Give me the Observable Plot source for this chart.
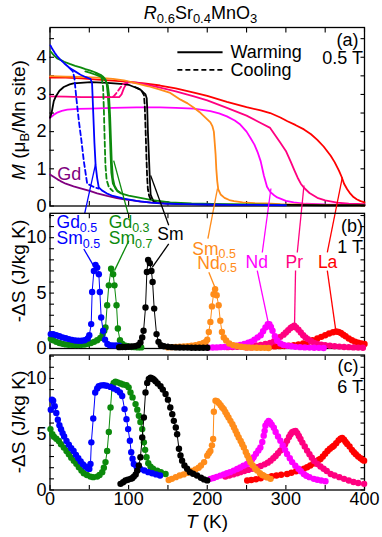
<!DOCTYPE html>
<html><head><meta charset="utf-8">
<script src="https://cdn.jsdelivr.net/npm/d3@7"></script>
<script src="https://cdn.jsdelivr.net/npm/@observablehq/plot@0.6"></script>
<style>
body{margin:0;background:#fff;}
#wrap{position:relative;width:382px;height:537px;font-family:"Liberation Sans",Arial,Helvetica,sans-serif;color:#000;overflow:hidden;}
#wrap svg{position:absolute;left:0;top:0;}
.t{position:absolute;white-space:nowrap;font-size:18px;line-height:1;transform:translate(-50%,-50%);}
.yl{position:absolute;white-space:nowrap;font-size:19px;line-height:1;transform:translate(-50%,-50%) rotate(-90deg);}
sub{font-size:13px;vertical-align:-4px;line-height:0;}
</style></head>
<body><div id="wrap"></div>
<script>
// ---------- colours ----------
const C = {La:"#ff0000", Pr:"#ff0080", Nd:"#ff00ff", SmNd:"#ff8c1a", Sm:"#000000", GdSm37:"#0c8a0c", GdSm55:"#0000ff", Gd:"#800080"};
const FONT = '"Liberation Sans", Arial, Helvetica, sans-serif';

// ---------- ticks ----------
const xTicks = [0,50,100,150,200,250,300,350,400];
const xLabels = [0,100,200,300,400];
const yTicksA = [0,0.5,1,1.5,2,2.5,3,3.5,4,4.5];
const yLabelsA = [0,1,2,3,4];
const yTicksS = [0,1,2,3,4,5,6,7,8,9,10,11,12];
const yLabelsS = [0,5,10];

// ---------- panel (a): M (muB/Mn site) at 0.5 T ----------
const T_La_a = [0,20,40,60,80,100,120,140,160,183,200,225,250,268,280,293,302,312,323,332,340,348,357,362,367.5,371,374,378,382,386,390,395,400];
const M_La_a = [3.45,3.45,3.43,3.4,3.37,3.34,3.3,3.24,3.16,3.05,2.96,2.8,2.66,2.57,2.5,2.38,2.28,2.18,2.06,1.93,1.78,1.6,1.35,1.18,0.95,0.78,0.6,0.45,0.33,0.24,0.18,0.13,0.1];
const T_Pr_a = [0,20,40,60,80,88,91,94,97,100,110,120,140,160,183,200,225,250,268,280,293,300,306,311,315,319,323,330,340,350,365,380,400];
const M_Pr_a = [2.95,2.94,2.93,2.93,2.93,2.93,3.0,3.17,3.28,3.33,3.32,3.28,3.18,3.08,2.95,2.84,2.64,2.43,2.23,2.1,1.7,1.48,1.2,0.95,0.76,0.6,0.49,0.35,0.22,0.15,0.09,0.06,0.05];
const T_Pr_c = [70,78,81,85,89,93,97,102];
const M_Pr_c = [2.93,2.93,2.95,3.05,3.17,3.28,3.32,3.33];
const T_Nd_a = [0,3,6,10,15,22,35,52,80,110,140,160,183,204,215,225,235,242,250,255,260,264,268,272,276,280,285,289,293,300,310,325,350,400];
const M_Nd_a = [2.37,2.42,2.47,2.52,2.56,2.59,2.61,2.62,2.64,2.65,2.65,2.64,2.62,2.55,2.49,2.41,2.3,2.19,2.0,1.83,1.65,1.45,1.2,0.82,0.52,0.38,0.29,0.23,0.2,0.14,0.1,0.06,0.04,0.03];
const T_SmNd_a = [0,20,40,60,80,94,110,125,140,153,166,175,183,190,196,200,204,206.5,208.4,209.5,210.6,211.5,212.7,214,217,222,228,234,245,260,275,293,320,350,400];
const M_SmNd_a = [3.49,3.48,3.47,3.45,3.42,3.38,3.3,3.22,3.13,3.04,2.86,2.76,2.64,2.53,2.41,2.33,2.25,2.15,2.0,1.7,1.39,1.0,0.67,0.45,0.31,0.22,0.16,0.13,0.1,0.08,0.07,0.05,0.04,0.03,0.02];
const T_Sm_a = [0,2,4.8,7,9,12,17.5,25,30,52,73,94,100,107,111,115,118,121.5,123,123.6,124.5,125.7,127,128,130,132,136,145,160,180,200,250,300,350,400];
const M_Sm_a = [2.37,2.5,2.82,2.93,3.0,3.1,3.2,3.27,3.3,3.33,3.31,3.28,3.26,3.2,3.17,3.13,3.07,3.0,2.9,2.66,2.0,1.39,0.7,0.31,0.2,0.13,0.1,0.08,0.06,0.05,0.04,0.03,0.03,0.02,0.02];
const T_Sm_c = [108,113,117,119.5,120.5,121.5,122.5,123.5,124.5,126,128,132];
const M_Sm_c = [3.2,3.15,3.08,2.98,2.7,2.1,1.4,0.8,0.45,0.28,0.18,0.13];
const T_Gd_a = [0,5,10,13.4,20,30,40,51.5,60,72.7,85,94,105,115,130,150];
const M_Gd_a = [0.85,0.78,0.71,0.67,0.6,0.53,0.47,0.4,0.34,0.27,0.21,0.18,0.15,0.12,0.09,0.06];
const T_GdSm37_a = [0.6,3,6,9,13.4,18,25,32,38.8,45,51.5,58,64.3,68,70.6,72,73.5,75,76,77,78,80,83,85.5,90,100,115,130,153,180,220,260,300];
const M_GdSm37_a = [4.16,4.1,4.03,3.97,3.93,3.88,3.82,3.77,3.73,3.68,3.64,3.59,3.53,3.47,3.4,3.3,3.0,2.5,2.0,1.4,0.9,0.6,0.48,0.4,0.34,0.28,0.22,0.16,0.1,0.07,0.05,0.04,0.03];
const T_GdSm37_b = [45,51.5,58,64.3,68,71,73.5,75,76.5,77.5,78.5,80,82,85.5,90];
const M_GdSm37_b = [3.62,3.58,3.53,3.48,3.43,3.36,3.25,3.0,2.4,1.8,1.2,0.75,0.55,0.42,0.35];
const T_GdSm37_c = [58,64,66,67.5,68.5,69.5,70.5,72,75,80];
const M_GdSm37_c = [3.58,3.5,3.42,3.2,2.6,1.8,1.1,0.7,0.5,0.4];
const T_GdSm55_a = [0.6,3,6,9,13.4,18,25,32,38.8,45,51.5,53.5,55,56.5,58,60,62,66,72,80,94,110,128,140,153,170,200,230,260,300];
const M_GdSm55_a = [4.32,4.22,4.12,4.03,3.93,3.84,3.71,3.62,3.53,3.47,3.42,3.3,2.5,1.7,1.1,0.75,0.5,0.42,0.34,0.27,0.2,0.14,0.09,0.07,0.06,0.05,0.04,0.03,0.03,0.02];
const T_GdSm55_c = [25,29,31,33.5,36.7,40,43,45.5,47.3,52,58,62];
const M_GdSm55_c = [3.71,3.62,3.45,2.9,2.29,1.75,1.21,0.85,0.6,0.55,0.49,0.47];

// ---------- panel (b): -dS at 1 T ----------
const T_La_1 = [250,256,262,268,274,280,286,292,298,304,310,316,322,328,334,340,345,350,355,360,364,367,370,373,376,380,384,388,392,396,400];
const S_La_1 = [0.1,0.1,0.12,0.13,0.15,0.17,0.19,0.21,0.23,0.26,0.3,0.36,0.45,0.58,0.75,0.9,1.05,1.2,1.35,1.47,1.53,1.5,1.4,1.25,1.1,0.9,0.75,0.62,0.52,0.45,0.4];
const T_Pr_1 = [226,232,238,244,250,256,262,268,274,280,285,289,293,297,300,303,306,308,310.6,313,316,319,322,325,328,332,336,340,345,350,356,362,368,374,380,386,392,398];
const S_Pr_1 = [0.12,0.14,0.16,0.18,0.2,0.24,0.28,0.33,0.4,0.5,0.65,0.85,1.05,1.25,1.45,1.65,1.85,1.95,2.05,1.9,1.7,1.45,1.2,1.0,0.85,0.65,0.5,0.42,0.35,0.3,0.25,0.2,0.17,0.14,0.12,0.1,0.08,0.07];
const T_Nd_1 = [202,207,212,217,222,227,232,237,242,247,252,256,260,264,268,271,274,277,279,281,283,286,289,293,297,302,307,312,318,324,330,336,342,348];
const S_Nd_1 = [0.08,0.09,0.1,0.12,0.14,0.17,0.2,0.25,0.32,0.4,0.52,0.62,0.8,1.0,1.2,1.55,1.9,2.2,2.2,1.95,1.6,1.1,0.72,0.45,0.32,0.25,0.2,0.15,0.12,0.1,0.08,0.07,0.06,0.05];
const T_SmNd_1 = [150,155,160,165,170,175,180,185,190,195,198,200,202,204,206,208,210,212,214.5,216.6,218.7,221,224,228,233,238,243,248,253,258,263,268,273,278];
const S_SmNd_1 = [0.1,0.12,0.14,0.16,0.18,0.21,0.25,0.3,0.38,0.5,0.6,0.8,1.5,2.4,3.8,4.9,5.35,4.8,3.9,2.5,1.5,1.0,0.72,0.45,0.3,0.22,0.16,0.12,0.1,0.08,0.07,0.06,0.06,0.05];
const T_GdSm37_1 = [1,4,8,12,16,20,24,28,32,36,40,44,48,52,56,60,64,67,69,70.6,72.7,74.8,77.7,80.3,82,84.6,86.3,89,92,96,100,104,108,112,116];
const S_GdSm37_1 = [0.87,0.75,0.6,0.5,0.42,0.37,0.34,0.33,0.32,0.32,0.33,0.36,0.42,0.5,0.6,0.75,0.95,1.3,1.6,1.9,3.9,5.7,7.2,6.7,5.7,3.9,1.8,0.75,0.4,0.25,0.18,0.14,0.12,0.1,0.1];
const T_GdSm55_1 = [1,4,8,12,16,20,24,28,32,36,40,44,48,50,52.4,53.6,55.8,57.9,60,62.1,63.4,65.1,67.6,70,73,76,80,84,88];
const S_GdSm55_1 = [1.3,1.28,1.2,1.1,1.0,0.92,0.85,0.78,0.72,0.7,0.7,0.75,0.9,1.2,2.2,5.1,7.0,7.55,7.3,6.7,5.1,2.8,1.6,0.8,0.4,0.3,0.28,0.27,0.26];
const T_Sm_1 = [88,92,96,100,104,108,112,115,117.3,119,121.5,123.2,124.8,127,129,130.5,132.5,135.5,138,141,145,150,155,160,165,170,175,180,185,190,195,200];
const S_Sm_1 = [0.12,0.13,0.14,0.16,0.18,0.21,0.3,0.55,1.0,1.6,3.7,6.9,8.0,7.7,7.0,6.0,3.6,1.3,0.6,0.3,0.2,0.15,0.12,0.1,0.09,0.08,0.08,0.07,0.07,0.07,0.07,0.07];

// ---------- panel (c): -dS at 6 T ----------
const T_La_6 = [250.8,256,262,268,276,282,288,294,301.5,307,313,318,323,327,331,335,339,342,344,347,350,353,356,359,361,364,367,369.5,371.6,374,376,378,381,384,386.5,389,392,395,397.5,399.5];
const S_La_6 = [0.85,0.9,0.97,1.05,1.15,1.23,1.3,1.37,1.44,1.55,1.68,1.8,1.92,2.04,2.2,2.38,2.6,2.72,2.78,3.0,3.25,3.5,3.7,3.85,3.97,4.2,4.45,4.6,4.66,4.5,4.3,4.13,3.9,3.6,3.38,3.2,3.0,2.85,2.72,2.63];
const T_Pr_6 = [223,228,233,238,242,247,252,257,263.6,268,273,277,280.5,284,287,290,293,296,299,301.5,304,306,308,310,312.3,314.5,316.5,318.6,321,324,327,330,333,336,340,344,348,352,357,362,368,374,380,386,392,399.5];
const S_Pr_6 = [1.2,1.3,1.4,1.5,1.6,1.7,1.8,1.9,2.04,2.15,2.3,2.45,2.63,2.85,3.05,3.3,3.53,3.8,4.1,4.42,4.75,5.0,5.17,5.25,5.3,5.1,4.85,4.57,4.25,3.9,3.53,3.2,2.9,2.6,2.33,2.1,1.9,1.7,1.44,1.3,1.15,1.0,0.85,0.72,0.63,0.55];
const T_Nd_6 = [204,208,212,216.6,221,225,229,233.6,238,242,246,250.6,254,257,259,262,265,267.6,270,271.8,273,274,276,278,280,282,284.7,287,290,293,296,299,301.5,305,308,312,316,319,322.8,326,330,335.6,340,345,350.4];
const S_Nd_6 = [1.0,1.08,1.18,1.29,1.4,1.5,1.6,1.74,1.88,2.02,2.17,2.33,2.55,2.75,2.93,3.25,3.55,3.82,4.3,4.87,5.3,5.76,6.0,6.2,6.05,5.85,5.58,5.2,4.8,4.42,4.0,3.6,3.23,2.85,2.5,2.18,1.9,1.68,1.44,1.28,1.15,1.0,0.92,0.85,0.78];
const T_SmNd_6 = [151,155,160,165,170,175,180,185,189,192,196,200,202,204,206,207.5,208.4,210.5,212.5,214.7,217,219,221,223,225,227,229.5,232,234,236,238,240,242.5,244.5,246.5,249,251,253,255,258,261,263.6,267,270,272,276,280.5];
const S_SmNd_6 = [0.9,1.0,1.15,1.3,1.4,1.55,1.7,1.85,2.0,2.2,2.5,3.08,3.3,3.5,4.0,4.57,7.02,8.0,7.95,7.8,7.6,7.4,7.25,7.0,6.75,6.5,6.2,5.9,5.6,5.3,5.0,4.7,4.4,4.1,3.82,3.4,3.1,2.8,2.48,2.2,1.9,1.74,1.5,1.35,1.29,1.15,1.0];
const T_GdSm37_6 = [0.6,3,5,8,11.2,14,17.6,21,24,27,30.3,33.5,36.7,40,43,47,51.5,55,60,63,66.4,68.5,70.6,72.7,74.8,77,79,81,83.3,86,89.7,93,97.3,100,102.4,105,108.8,111,113,115,117.3,119.4,121,122.8,125,127.9,131,136.4,141,147];
const S_GdSm37_6 = [5.46,5.0,4.77,4.6,4.4,4.1,3.8,3.5,3.2,2.9,2.63,2.35,2.04,1.75,1.5,1.35,1.2,1.15,1.2,1.35,1.6,2.0,2.5,3.5,5.2,7.4,9.33,9.6,9.7,9.65,9.54,9.45,9.39,9.2,8.74,8.3,7.7,7.2,6.65,6.1,5.46,4.27,3.6,2.93,2.4,2.09,1.9,1.73,1.6,1.44];
const T_GdSm55_6 = [1,2.5,4,6,8,10,12,14,16,18,21,24,27,30,33,36,39,42,45,48,50,51.5,52.6,55,57.5,60,62,65,68.5,72,77,81,85.5,89,91.8,94.8,97.3,99.4,101.6,103.3,105,106.6,110,115,120,125,130,135,140];
const S_GdSm55_6 = [7.2,8.1,8.0,7.5,6.9,6.3,5.8,5.45,5.1,4.8,4.4,4.05,3.75,3.5,3.15,2.85,2.55,2.3,2.1,1.95,1.89,2.33,4.27,6.41,8.74,9.1,9.3,9.38,9.39,9.35,9.24,9.1,8.95,8.75,8.43,7.25,6.35,5.46,4.42,3.38,2.8,2.33,2.1,1.88,1.75,1.6,1.5,1.4,1.3];
const T_Sm_6 = [89.7,93,96,99,102.4,104.5,106.6,109,110.9,113,115,117.3,119.4,121.5,123.6,125.7,127.9,130,132,134.2,137,140.6,143.5,147,150,153,155.5,157.5,160,161.7,164,166,168,171,174.4,178,182,187,192,196,200];
const S_Sm_6 = [0.55,0.7,0.85,0.92,1.0,1.05,1.2,1.4,1.73,2.2,2.93,4.7,6.5,8.74,9.6,9.95,10.07,10.0,9.9,9.75,9.55,9.3,9.0,8.6,8.1,7.4,6.8,6.2,5.6,5.0,3.7,3.1,2.63,2.2,1.9,1.6,1.45,1.3,1.1,0.95,0.86];

// ---------- annotations ----------
const legendKeys = ["Warming","Cooling"];
const legendM = [4.135, 3.66];
const legendT1 = 162, legendT2 = 219.5, legendTextT = 229.6;
// connector lines: upper part in panel (a) units (T, M), lower part in panel (b) units (T, -dS)
const connKey = ["GdSm55","GdSm37","Sm","SmNd","Nd","Pr","La"];
const connA_T1 = [58, 81, 128, 213, 281, 323, 371.8];
const connA_M1 = [1.13, 1.22, 0.82, 0.47, 0.47, 0.55, 0.77];
const connA_T2 = [44, 99.2, 151, 200.8, 270, 314.5, 352.7];
const connA_M2 = [-0.21, -0.2, -0.52, -0.88, -1.25, -1.25, -1.25];
const connB_T1 = [43, 100.3, 151, 202, 263.6, 312.3, 352.7];
const connB_S1 = [8.98, 9.73, 9.43, 6.87, 7.03, 7.03, 7.03];
const connB_T2 = [56.6, 82, 130, 210.6, 278.4, 311, 363.2];
const connB_S2 = [7.32, 7.03, 7.32, 5.38, 2.07, 2.07, 1.77];
// labels in panel (b)
const lblText = ["Gd","Sm","Gd","Sm","Sm","Sm","Nd","Nd","Pr","La"];
const lblSub  = ["0.5","0.5","0.3","0.7","","0.5","0.5","","",""];
const lblKey  = ["GdSm55","GdSm55","GdSm37","GdSm37","Sm","SmNd","SmNd","Nd","Pr","La"];
const lblT = [8.3,8.3,74.8,74.8,136.4,180.9,187.3,248.7,299.6,340.7];
const lblS = [11.38,9.97,11.38,9.97,10.33,8.98,7.72,7.77,7.77,7.77];

// ---------- helpers ----------
const zip = (T, Y) => T.map((t, i) => ({T: t, Y: Y[i]}));
const W = 382, H = 537;
const LBL = 17.5, SUB = 12.5;

function frameMarks(yTicks, yLabels, withX) {
  return [
    Plot.frame({stroke: "black", strokeWidth: 1.3}),
    Plot.axisX(xTicks, {anchor: "bottom", tickSize: -4.5, fill: "none", strokeWidth: 1.1}),
    Plot.axisX(xTicks, {anchor: "top", tickSize: -4.5, fill: "none", strokeWidth: 1.1}),
    Plot.axisY(yTicks, {anchor: "left", tickSize: -4.5, fill: "none", strokeWidth: 1.1}),
    Plot.axisY(yTicks, {anchor: "right", tickSize: -4.5, fill: "none", strokeWidth: 1.1}),
    Plot.axisY(yLabels, {anchor: "left", tickSize: 0, tickPadding: 3.5, label: null, fontSize: 18}),
    withX ? Plot.axisX(xLabels, {anchor: "bottom", tickSize: 0, tickPadding: 2.5, label: null, fontSize: 18}) : null
  ];
}
function mkPlot(top, bottom, yDomain, marks) {
  return Plot.plot({
    width: W, height: H,
    marginLeft: 49.5, marginRight: 18, marginTop: top, marginBottom: H - bottom,
    x: {domain: [0, 400]}, y: {domain: yDomain},
    style: {background: "transparent", fontFamily: FONT, fontSize: "18px", overflow: "visible", color: "black"},
    marks
  });
}
function dotSeries(T, S, color) {
  const d = zip(T, S);
  return [
    Plot.line(d, {x: "T", y: "Y", stroke: color, strokeWidth: 1}),
    Plot.dot(d, {x: "T", y: "Y", fill: color, r: 3.2})
  ];
}
function subDx(t) { return (t === "Gd" ? 1.334 : t === "Sm" ? 1.5 : 1.278) * LBL; }

// ---------- panel (a) ----------
const solidA = [[T_La_a,M_La_a,C.La],[T_Pr_a,M_Pr_a,C.Pr],[T_Nd_a,M_Nd_a,C.Nd],[T_SmNd_a,M_SmNd_a,C.SmNd],[T_Sm_a,M_Sm_a,C.Sm],[T_Gd_a,M_Gd_a,C.Gd],[T_GdSm37_a,M_GdSm37_a,C.GdSm37],[T_GdSm37_b,M_GdSm37_b,C.GdSm37],[T_GdSm55_a,M_GdSm55_a,C.GdSm55]];
const dashA = [[T_Pr_c,M_Pr_c,C.Pr],[T_Sm_c,M_Sm_c,C.Sm],[T_GdSm37_c,M_GdSm37_c,C.GdSm37],[T_GdSm55_c,M_GdSm55_c,C.GdSm55]];
const marksA = [
  ...frameMarks(yTicksA, yLabelsA, false),
  ...solidA.map(([T,M,c]) => Plot.line(zip(T,M), {x:"T", y:"Y", stroke:c, strokeWidth:1.8})),
  ...dashA.map(([T,M,c]) => Plot.line(zip(T,M), {x:"T", y:"Y", stroke:c, strokeWidth:1.8, strokeDasharray:"5,3"})),
  ...connKey.map((k,i) => Plot.link([i], {x1: connA_T1[i], y1: connA_M1[i], x2: connA_T2[i], y2: connA_M2[i], stroke: C[k], strokeWidth: 1.3})),
  Plot.link([0], {x1: legendT1, x2: legendT2, y1: legendM[0], y2: legendM[0], stroke: "black", strokeWidth: 1.8}),
  Plot.link([1], {x1: legendT1, x2: legendT2, y1: legendM[1], y2: legendM[1], stroke: "black", strokeWidth: 1.8, strokeDasharray: "5,3"}),
  Plot.text(legendKeys, {x: legendTextT, y: (d,i) => legendM[i], text: d => d, textAnchor: "start", lineAnchor: "middle", fontSize: 18, fill: "black"}),
  Plot.text(["Gd"], {x: 9.2, y: 0.85, text: d => d, textAnchor: "start", lineAnchor: "middle", fontSize: 18, fill: C.Gd}),
  Plot.text(["(a)"], {frameAnchor: "top-right", dx: -6, dy: 13, textAnchor: "end", lineAnchor: "middle", fontSize: 18}),
  Plot.text(["0.5 T"], {frameAnchor: "top-right", dx: -1.5, dy: 31, textAnchor: "end", lineAnchor: "middle", fontSize: 18})
];

// ---------- panel (b) ----------
const series1 = [[T_La_1,S_La_1,C.La],[T_Pr_1,S_Pr_1,C.Pr],[T_Nd_1,S_Nd_1,C.Nd],[T_SmNd_1,S_SmNd_1,C.SmNd],[T_GdSm37_1,S_GdSm37_1,C.GdSm37],[T_GdSm55_1,S_GdSm55_1,C.GdSm55],[T_Sm_1,S_Sm_1,C.Sm]];
const marksB = [
  ...frameMarks(yTicksS, yLabelsS, false),
  ...series1.flatMap(([T,S,c]) => dotSeries(T,S,c)),
  ...connKey.map((k,i) => Plot.link([i], {x1: connB_T1[i], y1: connB_S1[i], x2: connB_T2[i], y2: connB_S2[i], stroke: C[k], strokeWidth: 1.3})),
  ...lblText.map((t,i) => Plot.text([t], {x: lblT[i], y: lblS[i], text: d => d, fill: C[lblKey[i]], textAnchor: "start", lineAnchor: "middle", fontSize: LBL})),
  ...lblText.map((t,i) => lblSub[i] ? Plot.text([lblSub[i]], {x: lblT[i], y: lblS[i], text: d => d, fill: C[lblKey[i]], textAnchor: "start", lineAnchor: "middle", fontSize: SUB, dx: subDx(t), dy: 5.5}) : null),
  Plot.text(["(b)"], {frameAnchor: "top-right", dx: -1.5, dy: 13, textAnchor: "end", lineAnchor: "middle", fontSize: 18}),
  Plot.text(["1 T"], {frameAnchor: "top-right", dx: -1.5, dy: 34, textAnchor: "end", lineAnchor: "middle", fontSize: 18})
];

// ---------- panel (c) ----------
const series6 = [[T_La_6,S_La_6,C.La],[T_Pr_6,S_Pr_6,C.Pr],[T_Nd_6,S_Nd_6,C.Nd],[T_SmNd_6,S_SmNd_6,C.SmNd],[T_GdSm37_6,S_GdSm37_6,C.GdSm37],[T_GdSm55_6,S_GdSm55_6,C.GdSm55],[T_Sm_6,S_Sm_6,C.Sm]];
const marksC = [
  ...frameMarks(yTicksS, yLabelsS, true),
  ...series6.flatMap(([T,S,c]) => dotSeries(T,S,c)),
  Plot.text(["(c)"], {frameAnchor: "top-right", dx: -6, dy: 11, textAnchor: "end", lineAnchor: "middle", fontSize: 18}),
  Plot.text(["6 T"], {frameAnchor: "top-right", dx: -1.5, dy: 32, textAnchor: "end", lineAnchor: "middle", fontSize: 18})
];

const wrap = document.getElementById("wrap");
wrap.appendChild(mkPlot(27, 205.5, [0, 4.8], marksA));
wrap.appendChild(mkPlot(212.8, 348, [0, 12.2], marksB));
wrap.appendChild(mkPlot(354.5, 489.5, [0, 12.1], marksC));

// titles (HTML text)
const html = `
<div class="t" style="left:200.5px;top:13px"><i>R</i><sub>0.6</sub>Sr<sub>0.4</sub>MnO<sub>3</sub></div>
<div class="yl" style="left:18px;top:120px"><i>M</i> (μ<sub>B</sub>/Mn site)</div>
<div class="yl" style="left:18px;top:271px">-ΔS (J/kg K)</div>
<div class="yl" style="left:18px;top:422px">-ΔS (J/kg K)</div>
<div class="t" style="left:207px;top:521px;font-size:19px"><i>T</i> (K)</div>`;
wrap.insertAdjacentHTML("beforeend", html);
</script>
</body></html>
